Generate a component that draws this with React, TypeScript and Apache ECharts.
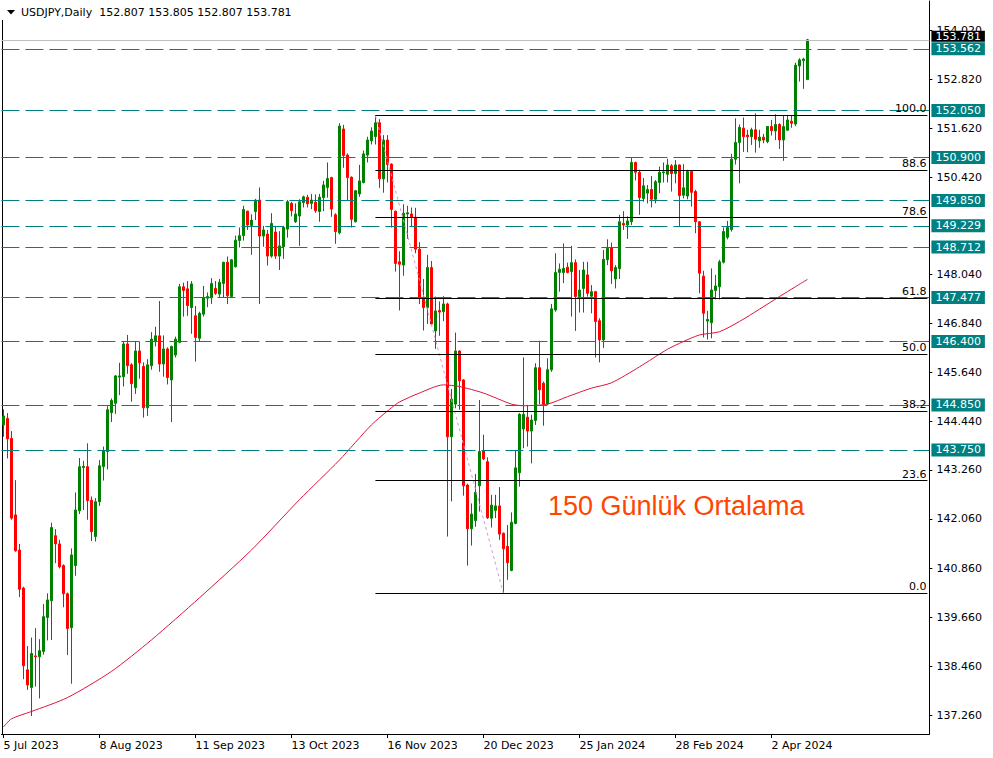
import React, { useEffect, useRef } from "react";
import * as echarts from "echarts";

// ---- candle data (index 0 = 5 Jul 2023) ----
const opens = [
  144.36, 144.52, 144.03, 142.16, 141.30, 140.37, 138.37, 137.94, 138.71, 138.69,
  138.82, 139.65, 140.06, 141.65, 141.45, 140.92, 140.23, 139.40, 140.92, 142.26,
  143.32, 143.34, 142.52, 141.63, 142.48, 143.34, 143.71, 144.66, 144.89, 145.53,
  145.54, 146.34, 145.83, 145.27, 146.17, 145.79, 144.78, 145.81, 146.40, 146.54,
  145.85, 146.22, 145.46, 146.07, 146.38, 147.74, 147.69, 147.23, 147.03, 146.48,
  147.07, 147.46, 147.47, 147.70, 147.56, 147.82, 148.34, 147.50, 148.23, 148.87,
  148.99, 149.59, 149.24, 149.58, 149.86, 148.98, 149.03, 148.49, 149.08, 148.49,
  148.72, 149.15, 149.78, 149.33, 149.47, 149.80, 149.93, 149.78, 149.81, 149.58,
  149.92, 150.17, 150.41, 149.50, 149.06, 151.60, 150.96, 150.42, 149.33, 150.01,
  150.29, 150.96, 151.31, 151.41, 151.75, 150.38, 151.33, 150.74, 149.59, 148.35,
  148.27, 149.52, 149.52, 149.44, 148.66, 147.48, 147.23, 148.21, 146.66, 147.16,
  147.13, 147.32, 144.07, 144.87, 146.17, 145.46, 142.89, 141.82, 142.02, 142.87,
  143.73, 143.46, 142.08, 142.27, 142.38, 141.71, 141.39, 140.80, 141.95, 143.19,
  144.26, 144.55, 144.21, 144.47, 145.76, 145.38, 144.87, 145.71, 147.17, 148.09,
  148.09, 148.22, 148.11, 148.33, 147.50, 147.70, 148.03, 147.51, 147.62, 146.91,
  146.44, 148.40, 148.70, 147.93, 148.18, 149.29, 149.25, 149.33, 150.78, 150.54,
  149.90, 150.03, 150.12, 149.88, 150.29, 150.53, 150.49, 150.70, 150.51, 150.72,
  149.98, 149.96, 150.56, 150.07, 149.33, 148.00, 146.90, 146.86, 147.65, 147.74,
  148.34, 148.95, 149.14, 150.86, 151.27, 151.62, 151.45, 151.41, 151.58, 151.31,
  151.40, 151.29, 151.66, 151.55, 151.71, 151.33, 151.57, 151.79, 151.72, 153.14,
  153.27, 152.807,
];
const highs = [
  144.74, 144.65, 144.21, 143.01, 141.45, 140.40, 138.95, 139.16, 139.39, 139.12,
  139.98, 140.24, 141.97, 141.81, 141.55, 140.95, 140.26, 141.34, 142.71, 143.55,
  143.48, 143.91, 142.61, 142.57, 143.50, 143.83, 144.82, 145.01, 145.58, 145.88,
  146.40, 146.56, 145.87, 146.40, 146.40, 145.89, 145.97, 146.63, 146.76, 147.39,
  146.55, 146.26, 146.30, 146.52, 147.81, 147.84, 147.88, 147.88, 147.27, 147.13,
  147.76, 147.60, 147.95, 147.88, 147.93, 148.35, 148.48, 148.42, 148.99, 149.19,
  149.72, 149.60, 149.51, 149.89, 150.17, 149.23, 149.13, 149.54, 149.23, 149.10,
  149.23, 149.86, 149.82, 149.78, 149.88, 149.97, 149.99, 150.01, 150.00, 150.01,
  150.33, 150.78, 150.43, 149.54, 151.74, 151.70, 151.00, 150.44, 150.11, 150.72,
  151.07, 151.41, 151.64, 151.93, 151.84, 151.45, 151.45, 150.76, 149.60, 148.61,
  149.76, 149.72, 149.68, 149.67, 148.83, 147.93, 148.52, 148.37, 147.50, 147.38,
  147.51, 147.35, 145.24, 146.62, 146.19, 145.48, 142.92, 142.44, 143.16, 144.97,
  144.12, 143.57, 142.65, 142.65, 142.84, 141.73, 141.91, 142.22, 143.75, 144.65,
  146.01, 144.85, 144.61, 145.87, 146.42, 145.42, 145.99, 147.32, 148.56, 148.31,
  148.80, 148.33, 148.74, 148.41, 148.15, 148.35, 148.35, 147.78, 147.64, 146.97,
  148.64, 148.90, 148.82, 148.27, 149.50, 149.59, 149.46, 150.91, 150.80, 150.60,
  150.40, 150.23, 150.45, 150.35, 150.68, 150.78, 150.87, 150.74, 150.84, 150.73,
  150.74, 150.60, 150.58, 150.11, 149.34, 148.13, 147.15, 148.19, 148.03, 148.40,
  149.19, 149.35, 150.99, 151.86, 151.71, 151.88, 151.58, 151.63, 151.98, 151.58,
  151.48, 151.67, 151.82, 151.96, 151.74, 151.92, 151.94, 151.94, 153.22, 153.33,
  153.34, 153.805,
];
const lows = [
  144.07, 143.54, 142.04, 141.26, 140.15, 138.14, 137.88, 137.24, 137.96, 137.67,
  138.74, 139.09, 139.10, 140.98, 140.85, 139.90, 138.73, 138.03, 140.67, 142.18,
  142.28, 142.04, 141.52, 141.51, 142.38, 143.00, 143.27, 144.43, 144.63, 145.09,
  145.30, 145.61, 144.93, 145.12, 145.49, 144.54, 144.58, 145.71, 146.28, 145.66,
  145.54, 145.35, 144.43, 146.01, 146.36, 147.01, 147.03, 146.59, 145.91, 146.41,
  147.01, 147.24, 147.32, 147.54, 147.48, 147.47, 147.32, 147.48, 148.21, 148.70,
  148.87, 149.13, 148.52, 149.37, 147.32, 148.72, 148.26, 148.45, 148.42, 148.15,
  148.42, 148.94, 149.46, 149.30, 148.74, 149.68, 149.68, 149.64, 149.55, 149.33,
  149.59, 149.92, 149.45, 148.79, 149.02, 150.65, 149.86, 149.19, 149.31, 149.94,
  150.27, 150.78, 151.22, 151.22, 150.16, 150.04, 150.29, 149.19, 148.11, 147.16,
  148.01, 148.91, 149.20, 148.56, 147.32, 146.67, 146.83, 146.80, 146.22, 146.54,
  146.90, 141.63, 142.49, 144.77, 144.73, 142.63, 140.92, 141.41, 141.87, 142.24,
  143.50, 142.06, 141.85, 142.08, 141.55, 140.24, 140.57, 140.78, 141.93, 142.85,
  143.79, 143.83, 143.42, 144.36, 144.87, 144.34, 144.85, 145.66, 147.13, 147.62,
  147.83, 148.07, 147.01, 146.66, 147.11, 147.11, 147.50, 147.09, 146.01, 145.89,
  146.24, 148.27, 147.81, 147.70, 147.93, 149.13, 148.91, 149.25, 150.34, 149.50,
  149.82, 149.78, 149.68, 149.78, 150.03, 150.29, 150.29, 150.07, 150.27, 149.21,
  149.90, 149.88, 149.70, 149.05, 147.58, 146.50, 146.45, 146.48, 147.43, 147.43,
  148.31, 148.90, 149.09, 150.73, 150.27, 151.04, 151.03, 151.21, 151.02, 151.14,
  151.25, 151.25, 151.44, 151.33, 151.11, 150.82, 151.55, 151.63, 151.67, 152.76,
  152.58, 152.807,
];
const closes = [
  144.58, 144.02, 142.08, 141.28, 140.34, 138.47, 138.00, 138.77, 138.69, 138.84,
  139.67, 140.08, 141.85, 141.45, 140.89, 140.23, 139.38, 141.18, 142.28, 143.34,
  143.35, 142.51, 141.75, 142.48, 143.36, 143.73, 144.73, 144.96, 145.56, 145.56,
  146.34, 145.81, 145.37, 146.17, 145.88, 144.78, 145.83, 146.46, 146.54, 145.85,
  146.22, 145.52, 146.28, 146.46, 147.74, 147.65, 147.28, 147.81, 146.50, 147.09,
  147.47, 147.50, 147.82, 147.58, 147.85, 148.34, 147.52, 148.40, 148.88, 148.99,
  149.63, 149.25, 149.37, 149.86, 148.98, 149.13, 148.49, 149.29, 148.49, 148.74,
  149.19, 149.82, 149.60, 149.52, 149.82, 149.94, 149.77, 149.86, 149.60, 149.93,
  150.23, 150.39, 149.64, 149.09, 151.67, 150.95, 150.41, 149.39, 150.09, 150.33,
  150.99, 151.33, 151.55, 151.75, 150.38, 151.33, 150.73, 149.63, 148.31, 148.29,
  149.54, 149.55, 149.44, 148.66, 147.47, 147.23, 148.21, 146.83, 147.15, 147.12,
  147.32, 144.07, 144.99, 146.17, 145.44, 142.87, 141.82, 142.18, 142.71, 143.71,
  143.53, 142.09, 142.40, 142.38, 141.69, 141.33, 140.99, 141.98, 143.31, 144.62,
  144.62, 144.21, 144.48, 145.76, 145.22, 144.87, 145.71, 147.20, 148.09, 148.17,
  148.19, 148.09, 148.33, 147.50, 147.66, 148.15, 147.58, 147.62, 146.89, 146.44,
  148.41, 148.68, 148.13, 148.21, 149.33, 149.25, 149.35, 150.78, 150.54, 149.92,
  150.21, 150.12, 149.88, 150.31, 150.54, 150.55, 150.72, 150.51, 150.72, 149.97,
  150.16, 150.56, 150.05, 149.33, 148.07, 147.09, 146.94, 147.66, 147.76, 148.35,
  149.09, 149.19, 150.86, 151.27, 151.64, 151.41, 151.41, 151.58, 151.35, 151.40,
  151.33, 151.66, 151.56, 151.71, 151.33, 151.66, 151.82, 151.74, 153.16, 153.29,
  153.31, 153.781,
];

// 150-day moving average, read at sample bars
const maBars = [0, 2, 7, 16, 27, 37, 49, 62, 74, 84, 92, 97, 99, 104, 110, 114, 120, 127, 130, 136, 141, 147, 152, 159, 166, 170, 174, 179, 184, 189, 194, 198, 201];
const maValues = [136.97, 137.17, 137.35, 137.69, 138.33, 139.10, 140.13, 141.30, 142.53, 143.50, 144.36, 144.78, 144.92, 145.14, 145.34, 145.30, 145.14, 144.87, 144.83, 144.87, 145.05, 145.26, 145.39, 145.78, 146.21, 146.40, 146.56, 146.64, 146.89, 147.19, 147.50, 147.74, 147.92];

// Fibonacci retracement
const fibStartBar = 93;
const fibEndBar = 125;
const fibHigh = 151.93;
const fibLow = 140.24;
const fibRatios = [0, 23.6, 38.2, 50, 61.8, 78.6, 88.6, 100];

// horizontal levels
const levelPrices = [153.562, 152.05, 150.9, 149.85, 149.229, 148.712, 147.477, 146.4, 144.85, 143.75];
const bidPrice = 153.781;

const tickValues = [154.02, 152.82, 151.62, 150.42, 148.04, 146.84, 145.64, 144.44, 143.26, 142.06, 140.86, 139.66, 138.46, 137.26];

const dateLabelBars = [0, 24, 48, 72, 96, 120, 144, 168, 192];
const dateLabels = ["5 Jul 2023", "8 Aug 2023", "11 Sep 2023", "13 Oct 2023", "16 Nov 2023", "20 Dec 2023", "25 Jan 2024", "28 Feb 2024", "2 Apr 2024"];

const header = "USDJPY,Daily  152.807 153.805 152.807 153.781";
const note = "150 Günlük Ortalama";

const SLOTS = 232;
const FONT = "DejaVu Sans";

export default function App() {
  const ref = useRef<HTMLDivElement>(null);
  useEffect(() => {
    if (!ref.current) return;
    const chart = echarts.init(ref.current, null, { renderer: "svg" });
    const cats = Array.from({ length: SLOTS }, (_, i) => String(i));
    const candles = opens.map((o, i) => [o, closes[i], lows[i], highs[i]]);
    const isDate = (i: number) => dateLabelBars.indexOf(i) >= 0;
    const fibPrice = (r: number) => fibLow + ((fibHigh - fibLow) * r) / 100;

    chart.setOption({
      animation: false,
      backgroundColor: "#ffffff",
      grid: { left: 1.4, top: 1, width: 928, height: 733, containLabel: false },
      xAxis: {
        type: "category",
        data: cats,
        boundaryGap: true,
        axisLine: { show: true, lineStyle: { color: "#000", width: 1 } },
        axisTick: {
          show: true,
          alignWithLabel: true,
          interval: (i: number) => isDate(i),
          length: 4,
          lineStyle: { color: "#000" },
        },
        axisLabel: {
          interval: (i: number) => isDate(i),
          formatter: (_v: string, i: number) => {
            const k = dateLabelBars.indexOf(i);
            return k >= 0 ? dateLabels[k] : "";
          },
          align: "left",
          color: "#000",
          fontSize: 11,
          fontFamily: FONT,
          margin: 6,
        },
        splitLine: { show: false },
      },
      yAxis: {
        type: "value",
        position: "right",
        min: 136.8,
        max: 154.73,
        scale: true,
        splitLine: { show: false },
        axisLine: { show: true, onZero: false, lineStyle: { color: "#000", width: 1 } },
        axisTick: { show: true, length: 3, customValues: tickValues, lineStyle: { color: "#000" } },
        axisLabel: {
          customValues: tickValues,
          formatter: (v: number) => v.toFixed(3),
          color: "#000",
          fontSize: 11,
          fontFamily: FONT,
          margin: 7,
        },
      },
      series: [
        {
          type: "line",
          data: [],
          silent: true,
          markLine: {
            silent: true,
            symbol: ["none", "none"],
            animation: false,
            lineStyle: { color: "#c0c0c0", type: "solid", width: 1 },
            label: {
              show: true,
              position: "end",
              distance: 2,
              offset: [0, -3.5],
              formatter: bidPrice.toFixed(3),
              backgroundColor: "#000",
              color: "#fff",
              fontSize: 11,
              fontFamily: FONT,
              padding: [0, 4, 0, 4],
              lineHeight: 11,
            },
            data: [{ yAxis: bidPrice }],
          },
        },
        {
          type: "line",
          data: [],
          silent: true,
          markLine: {
            silent: true,
            symbol: ["none", "none"],
            animation: false,
            lineStyle: { color: "#008080", type: [18, 6], width: 1 },
            data: levelPrices.map((p) => ({
              yAxis: p,
              label: {
                show: true,
                position: "end",
                distance: 2,
                formatter: p.toFixed(3),
                backgroundColor: "#008080",
                color: "#fff",
                fontSize: 11,
                fontFamily: FONT,
                padding: [1, 4, 0, 4],
                lineHeight: 12,
              },
            })),
          },
        },
        {
          type: "candlestick",
          data: candles,
          barWidth: 2,
          itemStyle: {
            color: "#008000",
            color0: "#ff0000",
            borderColor: "#008000",
            borderColor0: "#ff0000",
            borderWidth: 1,
          },
        },
        {
          type: "line",
          data: [
            [fibStartBar, fibHigh],
            [fibEndBar, fibLow],
          ],
          showSymbol: false,
          silent: true,
          lineStyle: { color: "#d596d5", width: 1, type: [3, 3] },
          markLine: {
            silent: true,
            symbol: ["none", "none"],
            animation: false,
            lineStyle: { color: "#000", type: "solid", width: 1 },
            data: fibRatios.map((r) => [
              {
                coord: [fibStartBar, fibPrice(r)],
                label: {
                  show: true,
                  position: "insideEndTop",
                  distance: 1,
                  formatter: r.toFixed(1),
                  color: "#000",
                  fontSize: 11,
                  fontFamily: FONT,
                },
              },
              { coord: [SLOTS - 1, fibPrice(r)] },
            ]),
          },
        },
        {
          type: "line",
          data: maBars.map((b, i) => [b, maValues[i]]),
          showSymbol: false,
          smooth: 0.25,
          silent: true,
          lineStyle: { color: "#dc143c", width: 1 },
        },
      ],
      graphic: [
        {
          type: "line",
          shape: { x1: 2.5, y1: 20, x2: 2.5, y2: 734 },
          style: { stroke: "#000", lineWidth: 1 },
        },
        {
          type: "polygon",
          shape: { points: [[7, 10], [15, 10], [11, 14.5]] },
          style: { fill: "#000" },
        },
        {
          type: "text",
          x: 21,
          y: 12.5,
          style: { text: header, fill: "#000", fontSize: 11, fontFamily: FONT, verticalAlign: "middle" },
        },
        {
          type: "text",
          x: 548,
          y: 506,
          style: { text: note, fill: "#ff4500", fontSize: 27, fontFamily: "Liberation Sans", verticalAlign: "middle" },
        },
      ],
    });
    return () => chart.dispose();
  }, []);
  return <div ref={ref} style={{ position: "fixed", left: 0, top: 0, width: 993, height: 758, background: "#fff" }} />;
}
